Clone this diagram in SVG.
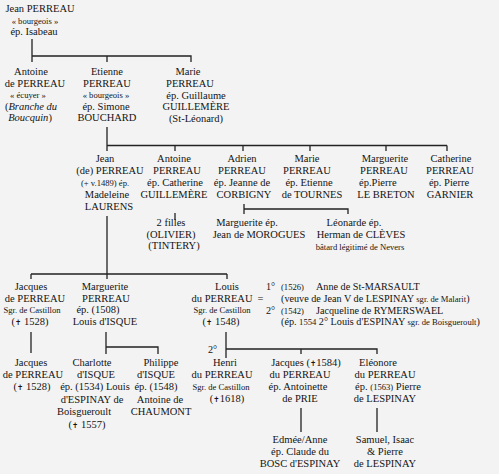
<svg xmlns="http://www.w3.org/2000/svg" width="499" height="474" viewBox="0 0 499 474">
<style>
text{font-family:"Liberation Serif","Times New Roman",serif;fill:#141414;font-size:10.5px;text-anchor:middle}
.s{font-size:8.6px}
.r{font-size:10.2px;text-anchor:start}
.st{text-anchor:start}
.i{font-style:italic}
.c{font-family:"DejaVu Sans",sans-serif;font-size:7.5px}
#connectors path{stroke:#222;stroke-width:1.3;fill:none}
</style>
<rect width="499" height="474" fill="#f3f3f3"/>
<g id="connectors">
<path d="M32 39V62M32 56H191V62M107 56V62"/>
<path d="M107 127V151M107 145.5H447M175 145.5V151M243 145.5V151M310 145.5V151M386 145.5V151M447 145.5V151"/>
<path d="M175 213V220"/>
<path d="M244 204V214M244 209H348V214"/>
<path d="M107 216V279M31 274H227M31 274V279M227 274V279"/>
<path d="M31 332V353"/>
<path d="M106 332V354M106 347H158V354"/>
<path d="M226 332V358M226 349H377V354M301 349V354"/>
<path d="M301 408V432M377 408V432"/>
</g>
<g id="jean-perreau">
<text x="40" y="12">Jean PERREAU</text>
<text x="35" y="23.5" class="s">« bourgeois »</text>
<text x="34" y="34.5">ép. Isabeau</text>
</g>
<g id="antoine-1">
<text x="31" y="75">Antoine</text>
<text x="35" y="87">de PERREAU</text>
<text x="28" y="98" class="s">« écuyer »</text>
<text x="31" y="109.5">(<tspan class="i">Branche du</tspan></text>
<text x="30" y="121"><tspan class="i">Boucquin</tspan>)</text>
</g>
<g id="etienne">
<text x="107" y="75">Etienne</text>
<text x="107" y="87">PERREAU</text>
<text x="106" y="98" class="s">« bourgeois »</text>
<text x="106" y="109.5">ép. Simone</text>
<text x="107" y="121">BOUCHARD</text>
</g>
<g id="marie-1">
<text x="188" y="75">Marie</text>
<text x="190" y="87">PERREAU</text>
<text x="196" y="98.5">ép. Guillaume</text>
<text x="196" y="110">GUILLEMÈRE</text>
<text x="196" y="121.5">(St-Léonard)</text>
</g>
<g id="jean-2">
<text x="105" y="162">Jean</text>
<text x="110" y="174">(de) PERREAU</text>
<text x="105" y="185.5" class="s">(+ v.1489) ép.</text>
<text x="107" y="197.5">Madeleine</text>
<text x="109" y="209.5">LAURENS</text>
</g>
<g id="antoine-2">
<text x="174" y="162">Antoine</text>
<text x="177" y="174">PERREAU</text>
<text x="175" y="185.5">ép. Catherine</text>
<text x="174" y="197.5">GUILLEMÈRE</text>
</g>
<g id="filles">
<text x="171" y="226">2 filles</text>
<text x="171" y="237.5">(OLIVIER)</text>
<text x="174" y="249">(TINTERY)</text>
</g>
<g id="adrien">
<text x="242" y="162">Adrien</text>
<text x="242" y="174">PERREAU</text>
<text x="242" y="185.5">ép. Jeanne de</text>
<text x="244" y="197.5">CORBIGNY</text>
</g>
<g id="marguerite-morogues">
<text x="247" y="226">Marguerite ép.</text>
<text x="259" y="237.5">Jean de MOROGUES</text>
</g>
<g id="leonarde">
<text x="354" y="226">Léonarde ép.</text>
<text x="361" y="237.5">Herman de CLÈVES</text>
<text x="360" y="249.5" class="s">bâtard légitimé de Nevers</text>
</g>
<g id="marie-2">
<text x="307" y="162">Marie</text>
<text x="307" y="174">PERREAU</text>
<text x="309" y="185.5">ép. Etienne</text>
<text x="312" y="197.5">de TOURNES</text>
</g>
<g id="marguerite-2">
<text x="385" y="162">Marguerite</text>
<text x="384" y="174">PERREAU</text>
<text x="359" y="185.5" class="st">ép.Pierre</text>
<text x="386" y="197.5">LE BRETON</text>
</g>
<g id="catherine">
<text x="451" y="162">Catherine</text>
<text x="450" y="174">PERREAU</text>
<text x="449" y="185.5">ép. Pierre</text>
<text x="450" y="197.5">GARNIER</text>
</g>
<g id="jacques-3">
<text x="31" y="290">Jacques</text>
<text x="35" y="302">de PERREAU</text>
<text x="32" y="313" class="s">Sgr. de Castillon</text>
<text x="30" y="324.5">(<tspan class="c">✝</tspan> 1528)</text>
</g>
<g id="marguerite-3">
<text x="105" y="290">Marguerite</text>
<text x="106" y="302">PERREAU</text>
<text x="98" y="313">ép. (1508)</text>
<text x="105" y="324.5">Louis d'ISQUE</text>
</g>
<g id="louis">
<text x="227" y="290">Louis</text>
<text x="222" y="302">du PERREAU</text>
<text x="222" y="313" class="s">Sgr. de Castillon</text>
<text x="221" y="324.5">(<tspan class="c">✝</tspan> 1548)</text>
</g>
<g id="marriages">
<text x="260.5" y="302">=</text>
<text x="266" y="290" class="r">1°  <tspan x="281" class="s">(1526)</tspan><tspan x="316">Anne de St-MARSAULT</tspan></text>
<text x="281" y="302" class="r">(veuve de Jean V de LESPINAY <tspan class="s">sgr. de Malarit</tspan>)</text>
<text x="266" y="313.5" class="r">2° <tspan x="281" class="s">(1542)</tspan><tspan x="316">Jacqueline de RYMERSWAEL</tspan></text>
<text x="281" y="325" class="r">(ép. <tspan class="s">1554</tspan> 2° Louis d'ESPINAY <tspan class="s">sgr. de Boisgueroult</tspan>)</text>
<text x="208" y="353" class="r">2°</text>
</g>
<g id="jacques-4">
<text x="31" y="366">Jacques</text>
<text x="33" y="378">de PERREAU</text>
<text x="32" y="390">(<tspan class="c">✝</tspan> 1528)</text>
</g>
<g id="charlotte">
<text x="92" y="366">Charlotte</text>
<text x="96" y="378">d'ISQUE</text>
<text x="95" y="390">ép. (1534) Louis</text>
<text x="92" y="402.5">d'ESPINAY de</text>
<text x="84" y="414.5">Boisgueroult</text>
<text x="87" y="428">(<tspan class="c">✝</tspan> 1557)</text>
</g>
<g id="philippe">
<text x="161" y="366">Philippe</text>
<text x="156" y="378">d'ISQUE</text>
<text x="156" y="390">ép. (1548)</text>
<text x="160" y="402.5">Antoine de</text>
<text x="161" y="414.5">CHAUMONT</text>
</g>
<g id="henri">
<text x="225" y="366">Henri</text>
<text x="222" y="378">du PERREAU</text>
<text x="221" y="390" class="s">Sgr. de Castillon</text>
<text x="227" y="402">(<tspan class="c">✝</tspan>1618)</text>
</g>
<g id="jacques-5">
<text x="306" y="366">Jacques (<tspan class="c">✝</tspan>1584)</text>
<text x="300" y="378">du PERREAU</text>
<text x="298" y="390">ép. Antoinette</text>
<text x="300" y="402">de PRIE</text>
</g>
<g id="eleonore">
<text x="378" y="366">Eléonore</text>
<text x="385" y="378">du PERREAU</text>
<text x="388" y="390">ép. <tspan class="s">(1563)</tspan> Pierre</text>
<text x="385" y="402">de LESPINAY</text>
</g>
<g id="edmee">
<text x="300" y="443">Edmée/Anne</text>
<text x="300" y="455">ép. Claude du</text>
<text x="300" y="467">BOSC d'ESPINAY</text>
</g>
<g id="samuel">
<text x="385" y="443">Samuel, Isaac</text>
<text x="385" y="455">&amp; Pierre</text>
<text x="385" y="467">de LESPINAY</text>
</g>
</svg>
